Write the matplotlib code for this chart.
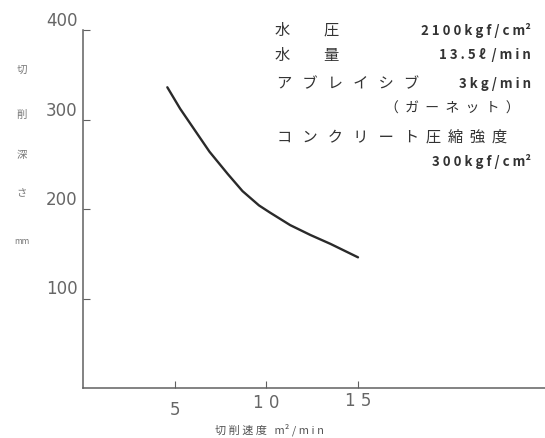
import matplotlib
matplotlib.use("Agg")
import matplotlib.pyplot as plt

plt.rcParams['font.family'] = ['Noto Sans CJK JP', 'DejaVu Sans']

# data
speed = [4.6, 5.3, 6.0, 6.9, 7.9, 8.7, 9.6, 10.2, 11.3, 12.4, 13.5, 14.5, 15.0]
depth = [336, 312, 291, 264, 239, 220, 204, 196, 182, 171, 161, 151, 146]
yticks = [100, 200, 300, 400]
xticks = [5, 10, 15]
ytick_labels = ["100", "200", "300", "400"]
xtick_labels = ["5", "1 0", "1 5"]
ylabel_chars = ["切", "削", "深", "さ", "mm"]
xlabel = "切 削 速 度   m² / m i n"
cond_left = ["水          圧", "水          量", "ア   ブ   レ   イ   シ   ブ",
             "（  ガ  ー  ネ  ッ  ト  ）",
             "コ   ン   ク   リ   ー   ト  圧  縮  強  度", ""]
cond_right = ["2 1 0 0 k g f / c m²", "1 3 . 5 ℓ  / m i n", "3 k g / m i n",
              "", "", "3 0 0 k g f / c m²"]

W, H = 545, 438
fig = plt.figure(figsize=(W / 100, H / 100), dpi=100)
ax = fig.add_axes([83 / W, (H - 388) / H, (W - 83) / W, 358 / H])
ax.plot(speed, depth, color="#2a2a2a", lw=1.7, solid_joinstyle="round", solid_capstyle="round")
ax.set_xlim(0, 25.2)
ax.set_ylim(0, 400)
for s in ["top", "right"]:
    ax.spines[s].set_visible(False)
for s in ["left", "bottom"]:
    ax.spines[s].set_color("#606060")
    ax.spines[s].set_linewidth(1.1)
ax.set_xticks(xticks)
ax.set_yticks(yticks)
ax.set_xticklabels([])
ax.set_yticklabels([])
ax.tick_params(direction="in", length=5, color="#606060", width=0.8)

gray = "#666666"
for v, lab in zip(yticks, ytick_labels):
    ax.annotate(lab, xy=(0, v), xycoords=("axes fraction", "data"),
                xytext=(-4, 0), textcoords="offset points",
                ha="right", va="bottom", fontsize=12, color=gray, family="DejaVu Sans")
x_label_y = [410, 403, 401]
for v, lab, py in zip(xticks, xtick_labels, x_label_y):
    fig.text((83 + v * 18.35) / W, 1 - py / H, lab, ha="center", va="center",
             fontsize=12, color=gray, family="DejaVu Sans")

fig.text(269 / W, 1 - 430 / H, xlabel, ha="center", va="center", fontsize=8, color="#555555")
ys = [70, 115, 155, 193, 242]
for ch, y in zip(ylabel_chars, ys):
    fig.text(22 / W, 1 - y / H, ch, ha="center", va="center",
             fontsize=7.5 if ch != "mm" else 6, color="#777777")

tc = "#333333"
line_y = [30, 55, 84, 109, 137, 162]
left_x = [275, 275, 277, 385, 277, 0]
left_fs = [11, 11, 11, 10, 11, 11]
for lt, rt, y, lx, fs in zip(cond_left, cond_right, line_y, left_x, left_fs):
    if lt:
        fig.text(lx / W, 1 - y / H, lt, ha="left", va="center", fontsize=fs, color=tc)
    if rt:
        fig.text(531 / W, 1 - y / H, rt, ha="right", va="center", fontsize=9.5,
                 color=tc, fontweight="bold")

fig.savefig("out.png", dpi=100, facecolor="white")
